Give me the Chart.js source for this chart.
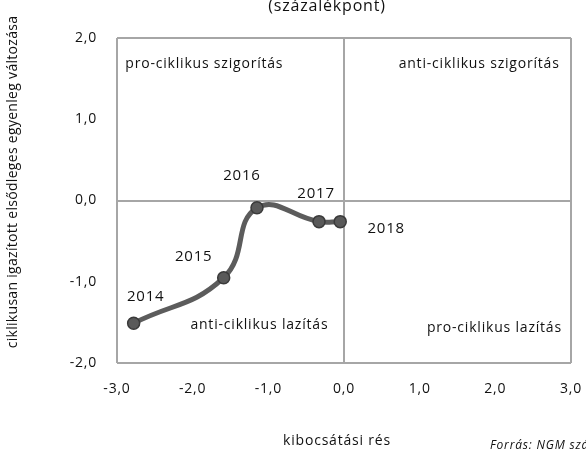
<!DOCTYPE html>
<html>
<head>
<meta charset="utf-8">
<script src="https://cdn.jsdelivr.net/npm/chart.js@4"></script>
<style>
  html, body { margin: 0; padding: 0; background: #fff; }
  #wrap { width: 586px; height: 450px; position: relative; }
</style>
</head>
<body>
<div id="wrap"><canvas id="chart"></canvas></div>
<script>
// data
const years = ['2014', '2015', '2016', '2017', '2018'];
const outputGap = [-2.78, -1.59, -1.15, -0.33, -0.05];
const fiscalChange = [-1.51, -0.95, -0.09, -0.26, -0.26];
const xTicks = [-3, -2, -1, 0, 1, 2, 3];
const yTicks = [-2, -1, 0, 1, 2];

// year label offsets from their point (px)
const labelOffsets = [[12, -26], [-30, -21], [-15, -32], [-3, -28], [46, 7]];

// quadrant notes: text, x, y (data units), alignment
const quadrantNotes = [
  { text: 'pro-ciklikus szigorítás', x: -2.89, y: 1.68, align: 'left' },
  { text: 'anti-ciklikus szigorítás', x: 2.85, y: 1.68, align: 'right' },
  { text: 'anti-ciklikus lazítás', x: -2.03, y: -1.53, align: 'left' },
  { text: 'pro-ciklikus lazítás', x: 2.88, y: -1.57, align: 'right' }
];

const FONT = '"Open Sans", sans-serif';
const fmt = v => v.toFixed(1).replace('.', ',');
const frameColor = '#a6a6a6';
const textColor = '#111';

// the reference font is set rather loose, so widen all canvas text a bit
const spacingPlugin = {
    id: 'spacing',
    beforeDraw(chart) {
        chart.ctx.letterSpacing = '0.8px';
    }
};

// draws year labels, quadrant notes and the titles
const textPlugin = {
    id: 'texts',
    afterDatasetsDraw(chart) {
        const ctx = chart.ctx;
        const xs = chart.scales.x;
        const ys = chart.scales.y;
        const meta = chart.getDatasetMeta(0);
        ctx.save();
        ctx.fillStyle = textColor;
        ctx.letterSpacing = '0.8px';
        ctx.font = '15px ' + FONT;
        ctx.textBaseline = 'middle';

        ctx.textAlign = 'center';
        meta.data.forEach((pt, i) => {
            const off = labelOffsets[i];
            ctx.fillText(years[i], pt.x + off[0], pt.y + off[1]);
        });

        ctx.font = '14px ' + FONT;
        quadrantNotes.forEach(n => {
            ctx.textAlign = n.align;
            ctx.fillText(n.text, xs.getPixelForValue(n.x), ys.getPixelForValue(n.y));
        });

        // chart subtitle, partly cut off at the top
        ctx.textAlign = 'center';
        ctx.font = '16px ' + FONT;
        ctx.fillText('(százalékpont)', 327, 6);

        // axis titles
        ctx.font = '14px ' + FONT;
        ctx.fillText('kibocsátási rés', 337, 441);
        ctx.save();
        ctx.letterSpacing = '0.3px';
        ctx.translate(13, 182);
        ctx.rotate(-Math.PI / 2);
        ctx.fillText('ciklikusan igazított elsődleges egyenleg változása', 0, 0);
        ctx.restore();

        // source note, cut off at the corner
        ctx.textAlign = 'left';
        ctx.font = 'italic 12px ' + FONT;
        ctx.fillText('Forrás: NGM számítás', 490, 446);
        ctx.restore();
    }
};

const gridColor = (ctx) => {
    const v = ctx.tick && ctx.tick.value;
    const s = ctx.scale;
    return (v === 0 || v === s.min || v === s.max) ? frameColor : 'rgba(0,0,0,0)';
};

new Chart(document.getElementById('chart'), {
    type: 'line',
    data: {
        datasets: [{
            label: 'egyenleg',
            data: outputGap.map((x, i) => ({ x: x, y: fiscalChange[i] })),
            borderColor: '#5c5c5c',
            borderWidth: 5,
            tension: 0.45,
            pointRadius: 6,
            pointBackgroundColor: '#595959',
            pointBorderColor: '#3a3a3a',
            pointBorderWidth: 1.5,
            fill: false
        }]
    },
    options: {
        responsive: true,
        maintainAspectRatio: false,
        animation: false,
        layout: { padding: { top: 38, right: 15, left: 0, bottom: 0 } },
        plugins: {
            legend: { display: false },
            tooltip: { enabled: false }
        },
        scales: {
            x: {
                type: 'linear',
                min: -3, max: 3,
                afterBuildTicks: s => { s.ticks = xTicks.map(v => ({ value: v })); },
                afterFit: s => { s.height = 87; s.paddingLeft = 0; s.paddingRight = 0; },
                border: { display: false },
                grid: { color: gridColor, lineWidth: 2, drawTicks: false },
                ticks: {
                    color: textColor,
                    padding: 18,
                    font: { family: FONT, size: 14 },
                    callback: v => fmt(v)
                }
            },
            y: {
                type: 'linear',
                min: -2, max: 2,
                afterBuildTicks: s => { s.ticks = yTicks.map(v => ({ value: v })); },
                afterFit: s => { s.width = 117; s.paddingTop = 0; s.paddingBottom = 0; },
                border: { display: false },
                grid: { color: gridColor, lineWidth: 2, drawTicks: false },
                ticks: {
                    color: textColor,
                    padding: 20,
                    font: { family: FONT, size: 14 },
                    callback: v => fmt(v)
                }
            }
        }
    },
    plugins: [spacingPlugin, textPlugin]
});
</script>
</body>
</html>
